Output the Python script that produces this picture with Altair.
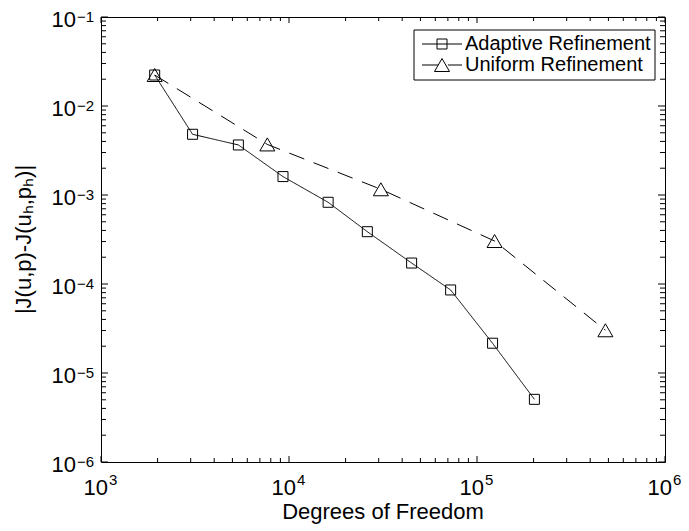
import altair as alt
import pandas as pd

FONT = "Liberation Sans"
W, H = 564, 445

series_names = ["Adaptive Refinement", "Uniform Refinement"]

adaptive_dof = [1930, 3070, 5380, 9290, 16150, 26100, 44900, 72400, 121000, 202000]
adaptive_err = [0.0223, 0.00481, 0.00365, 0.00161, 0.000828, 0.000387, 0.000172, 8.57e-5, 2.16e-5, 5.06e-6]
uniform_dof = [1930, 7670, 30800, 124000, 482000]
uniform_err = [0.0223, 0.00370, 0.00116, 0.000304, 3.02e-5]

x_title = ["Degrees of Freedom"]
y_title = ["|J(u,p)-J(u\u2095,p\u2095)|"]

x_major = [1e3, 1e4, 1e5, 1e6]
x_exp = ["3", "4", "5", "6"]
y_major = [1e-6, 1e-5, 1e-4, 1e-3, 1e-2, 1e-1]
y_exp = ["\u22126", "\u22125", "\u22124", "\u22123", "\u22122", "\u22121"]
minor_mult = [2, 3, 4, 5, 6, 7, 8, 9]
x_minor = [m * d for d in [1e3, 1e4, 1e5] for m in minor_mult]
y_minor = [m * d for d in [1e-6, 1e-5, 1e-4, 1e-3, 1e-2] for m in minor_mult]

df = pd.DataFrame({
    "series": [series_names[0]] * len(adaptive_dof) + [series_names[1]] * len(uniform_dof),
    "dof": adaptive_dof + uniform_dof,
    "err": adaptive_err + uniform_err,
})

DASH = [16, 10]
xs = alt.Scale(type="log", domain=[1e3, 1e6], nice=False)
ys = alt.Scale(type="log", domain=[1e-6, 1e-1], nice=False)

X = lambda f: alt.X(f, scale=xs, axis=None)
Y = lambda f: alt.Y(f, scale=ys, axis=None)

line = alt.Chart(df).mark_line(color="black", strokeWidth=1).encode(
    x=X("dof:Q"),
    y=Y("err:Q"),
    strokeDash=alt.StrokeDash("series:N", scale=alt.Scale(domain=series_names, range=[[1, 0], DASH]), legend=None),
    detail="series:N",
)

pts_a = alt.Chart(df).transform_filter(alt.datum.series == series_names[0]).mark_point(
    shape="square", size=100, filled=False, color="black", strokeWidth=1, opacity=1
).encode(x=X("dof:Q"), y=Y("err:Q"))

pts_u = alt.Chart(df).transform_filter(alt.datum.series == series_names[1]).mark_point(
    shape="triangle-up", size=225, filled=False, color="black", strokeWidth=1, opacity=1
).encode(x=X("dof:Q"), y=Y("err:Q"))


def tick_layer(vals, axis_ch, length):
    d = pd.DataFrame({"v": vals})
    base = alt.Chart(d).mark_rule(color="black", strokeWidth=1)
    if axis_ch == "x":
        return [base.encode(x=X("v:Q"), y=alt.value(H), y2=alt.value(H - length)),
                base.encode(x=X("v:Q"), y=alt.value(0), y2=alt.value(length))]
    return [base.encode(y=Y("v:Q"), x=alt.value(0), x2=alt.value(length)),
            base.encode(y=Y("v:Q"), x=alt.value(W), x2=alt.value(W - length))]


ticks = (tick_layer(x_major, "x", 6) + tick_layer(x_minor, "x", 4)
         + tick_layer(y_major, "y", 7) + tick_layer(y_minor, "y", 5))

xl = pd.DataFrame({"v": x_major, "e": x_exp})
yl = pd.DataFrame({"v": y_major, "e": y_exp})

x_base = alt.Chart(xl).mark_text(font=FONT, fontSize=22, color="black", align="right", baseline="alphabetic", dx=7).encode(
    x=X("v:Q"), y=alt.value(478), text=alt.value("10"))
x_sup = alt.Chart(xl).mark_text(font=FONT, fontSize=15, color="black", align="left", baseline="alphabetic", dx=8).encode(
    x=X("v:Q"), y=alt.value(468), text="e:N")
y_base = alt.Chart(yl).mark_text(font=FONT, fontSize=22, color="black", align="right", baseline="alphabetic", dy=10).encode(
    y=Y("v:Q"), x=alt.value(-25), text=alt.value("10"))
y_sup = alt.Chart(yl).mark_text(font=FONT, fontSize=15, color="black", align="left", baseline="alphabetic", dy=5).encode(
    y=Y("v:Q"), x=alt.value(-24), text="e:N")

xt = alt.Chart(pd.DataFrame({"t": x_title})).mark_text(
    font=FONT, fontSize=22, color="black", align="center", baseline="alphabetic").encode(
    x=alt.value(W / 2), y=alt.value(502), text="t:N")
yt = alt.Chart(pd.DataFrame({"t": y_title})).mark_text(
    font=FONT, fontSize=22, color="black", align="center", baseline="alphabetic", angle=270).encode(
    x=alt.value(-70), y=alt.value(H / 2), text="t:N")

# legend (box + two entries), built from the series names
LEG_L, LEG_R, LEG_T, LEG_B = 313, 554, 13, 63
LEG_ROWS = [27, 48]
leg_box = alt.Chart(pd.DataFrame({"k": [0]})).mark_rect(fill="white", stroke="black", strokeWidth=1).encode(
    x=alt.value(LEG_L), x2=alt.value(LEG_R), y=alt.value(LEG_T), y2=alt.value(LEG_B))

legend_layers = [leg_box]
leg_marks = [("square", 100, None), ("triangle-up", 225, DASH)]
for i, name in enumerate(series_names):
    d = pd.DataFrame({"series": [name]})
    shape, size, dash = leg_marks[i]
    rule_kw = dict(color="black", strokeWidth=1)
    if dash:
        rule_kw["strokeDash"] = dash
    legend_layers.append(alt.Chart(d).mark_rule(**rule_kw).encode(
        x=alt.value(LEG_L + 8), x2=alt.value(LEG_L + 48), y=alt.value(LEG_ROWS[i])))
    legend_layers.append(alt.Chart(d).mark_point(shape=shape, size=size, filled=False, color="black",
                                                 strokeWidth=1, opacity=1).encode(
        x=alt.value(LEG_L + 28), y=alt.value(LEG_ROWS[i])))
    legend_layers.append(alt.Chart(d).mark_text(font=FONT, fontSize=20, color="black", align="left",
                                                baseline="middle").encode(
        x=alt.value(LEG_L + 51), y=alt.value(LEG_ROWS[i]), text="series:N"))

chart = alt.layer(line, pts_a, pts_u, *ticks, x_base, x_sup, y_base, y_sup, xt, yt, *legend_layers).properties(
    width=W, height=H,
    autosize=alt.AutoSizeParams(type="none"),
    padding={"left": 93, "top": 9, "right": 16, "bottom": 68},
    background="white",
).configure_view(stroke="black", strokeWidth=1)

chart.save("out.html", embed_options={"renderer": "svg", "actions": False})
